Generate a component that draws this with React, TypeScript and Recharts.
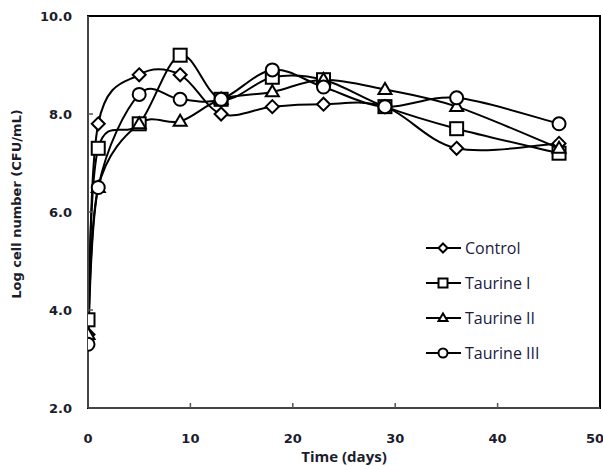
import React from "react";
import {
  Legend,
  Line,
  LineChart,
  ReferenceArea,
  XAxis,
  YAxis,
} from "recharts";

const days = [0, 1, 5, 9, 13, 18, 23, 29, 36, 46];
const control = [3.5, 7.8, 8.8, 8.8, 8.0, 8.15, 8.2, 8.15, 7.3, 7.4];
const taurineI = [3.8, 7.3, 7.8, 9.2, 8.3, 8.75, 8.7, 8.15, 7.7, 7.2];
const taurineII = [3.5, 6.5, 7.8, 7.85, 8.3, 8.45, 8.7, 8.5, 8.15, 7.3];
const taurineIII = [3.3, 6.5, 8.4, 8.3, 8.3, 8.9, 8.55, 8.15, 8.33, 7.8];

const xTicks = [0, 10, 20, 30, 40, 50];
const yTicks = [2, 4, 6, 8, 10];

const series = [
  { key: "control", name: "Control", shape: "diamond", values: control },
  { key: "t1", name: "Taurine I", shape: "square", values: taurineI },
  { key: "t2", name: "Taurine II", shape: "triangle", values: taurineII },
  { key: "t3", name: "Taurine III", shape: "circle", values: taurineIII },
];

const data = days.map((d, i) => {
  const row: any = { day: d };
  series.forEach((s) => (row[s.key] = s.values[i]));
  return row;
});

const tickFont = "'DejaVu Sans', Verdana, sans-serif";
const textColor = "#1c1c2c";

// Excel-style smoothed line (Catmull-Rom like bezier)
const excelCurve = (context: any) => {
  let pts: number[][] = [];
  return {
    areaStart() {},
    areaEnd() {},
    lineStart() {
      pts = [];
    },
    lineEnd() {
      if (!pts.length) return;
      context.moveTo(pts[0][0], pts[0][1]);
      const t = 1 / 6;
      for (let i = 0; i < pts.length - 1; i++) {
        const p0 = pts[Math.max(i - 1, 0)];
        const p1 = pts[i];
        const p2 = pts[i + 1];
        const p3 = pts[Math.min(i + 2, pts.length - 1)];
        context.bezierCurveTo(
          p1[0] + (p2[0] - p0[0]) * t,
          p1[1] + (p2[1] - p0[1]) * t,
          p2[0] - (p3[0] - p1[0]) * t,
          p2[1] - (p3[1] - p1[1]) * t,
          p2[0],
          p2[1]
        );
      }
    },
    point(x: number, y: number) {
      pts.push([+x, +y]);
    },
  };
};

function Marker({ shape, cx, cy, s }: { shape: string; cx: number; cy: number; s: number }) {
  const common = { fill: "#fff", stroke: "#000", strokeWidth: 2 };
  if (shape === "diamond") {
    return (
      <polygon
        points={`${cx},${cy - s} ${cx + s},${cy} ${cx},${cy + s} ${cx - s},${cy}`}
        {...common}
      />
    );
  }
  if (shape === "square") {
    return <rect x={cx - s} y={cy - s} width={2 * s} height={2 * s} {...common} />;
  }
  if (shape === "triangle") {
    const h = s * 1.7;
    return (
      <polygon
        points={`${cx},${cy - h * 0.6} ${cx + s},${cy + h * 0.4} ${cx - s},${cy + h * 0.4}`}
        {...common}
      />
    );
  }
  return <circle cx={cx} cy={cy} r={s} {...common} />;
}

const renderDot = (shape: string, s: number) => (p: any) => (
  <Marker key={`${shape}-${p.index}`} shape={shape} cx={p.cx} cy={p.cy} s={s} />
);

const XTick = (p: any) => {
  const axisY = p.y - 26;
  const v = p.payload.value;
  return (
    <g>
      {v > 0 && v < 50 && (
        <line x1={p.x} x2={p.x} y1={axisY} y2={axisY - 5} stroke="#555" strokeWidth={1.5} />
      )}
      <text
        x={p.x}
        y={p.y}
        dy="0.71em"
        textAnchor="middle"
        fontFamily={tickFont}
        fontWeight="bold"
        fontSize={13}
        fill={textColor}
      >
        {v}
      </text>
    </g>
  );
};

const YTick = (p: any) => {
  const axisX = p.x + 16;
  const v = p.payload.value;
  return (
    <g>
      {v > 2 && v < 10 && (
        <line x1={axisX} x2={axisX + 5} y1={p.y} y2={p.y} stroke="#555" strokeWidth={1.5} />
      )}
      <text
        x={p.x}
        y={p.y}
        dy="0.36em"
        textAnchor="end"
        fontFamily={tickFont}
        fontWeight="bold"
        fontSize={13}
        fill={textColor}
      >
        {v.toFixed(1)}
      </text>
    </g>
  );
};

const LegendBox = () => (
  <div>
    {series.map((s) => (
      <div key={s.key} style={{ display: "flex", alignItems: "center", height: 35 }}>
        <svg width={40} height={16}>
          <line x1={2} x2={37} y1={8} y2={8} stroke="#000" strokeWidth={2} />
          <Marker shape={s.shape} cx={19} cy={8} s={4.5} />
        </svg>
        <span
          style={{
            fontFamily: "'Open Sans', sans-serif",
            fontSize: 16,
            color: "#1a1a40",
            marginLeft: 1,
          }}
        >
          {s.name}
        </span>
      </div>
    ))}
  </div>
);

export default function App() {
  return (
    <div style={{ position: "absolute", left: 0, top: 0, background: "#fff" }}>
      <LineChart width={603} height={466} data={data} margin={{ top: 16, right: 3, bottom: 0, left: 0 }}>
        <ReferenceArea
          x1={0}
          x2={50}
          y1={2}
          y2={10}
          fill="none"
          stroke="#000"
          strokeWidth={2}
          ifOverflow="visible"
        />
        <XAxis
          dataKey="day"
          type="number"
          domain={[0, 50]}
          ticks={xTicks}
          height={58}
          tickSize={0}
          tickMargin={26}
          tick={XTick}
          stroke="#444"
          strokeWidth={2}
          allowDataOverflow
          label={{
            content: ({ viewBox }: any) => (
              <text
                x={viewBox.x + viewBox.width / 2}
                y={viewBox.y + 54}
                textAnchor="middle"
                fontFamily="'Open Sans', sans-serif"
                fontWeight="bold"
                fontSize={15}
                fill={textColor}
              >
                Time (days)
              </text>
            ),
          }}
        />
        <YAxis
          type="number"
          domain={[2, 10]}
          ticks={yTicks}
          width={88}
          tickSize={0}
          tickMargin={16}
          tick={YTick}
          stroke="#444"
          strokeWidth={2}
          allowDataOverflow
          label={{
            content: ({ viewBox }: any) => {
              const cx = 21;
              const cy = viewBox.y + viewBox.height / 2 - 8;
              return (
                <text
                  x={cx}
                  y={cy}
                  transform={`rotate(-90 ${cx} ${cy})`}
                  textAnchor="middle"
                  fontFamily={tickFont}
                  fontWeight="bold"
                  fontSize={13}
                  fill={textColor}
                >
                  Log cell number (CFU/mL)
                </text>
              );
            },
          }}
        />
        <Legend
          layout="vertical"
          align="center"
          verticalAlign="middle"
          content={LegendBox}
          wrapperStyle={{ left: 424, top: 230, width: 175 }}
        />
        {series.map((s) => (
          <Line
            key={s.key}
            dataKey={s.key}
            name={s.name}
            type={excelCurve as any}
            stroke="#000"
            strokeWidth={2}
            dot={renderDot(s.shape, 6.5)}
            activeDot={false}
            isAnimationActive={false}
          />
        ))}
      </LineChart>
    </div>
  );
}
